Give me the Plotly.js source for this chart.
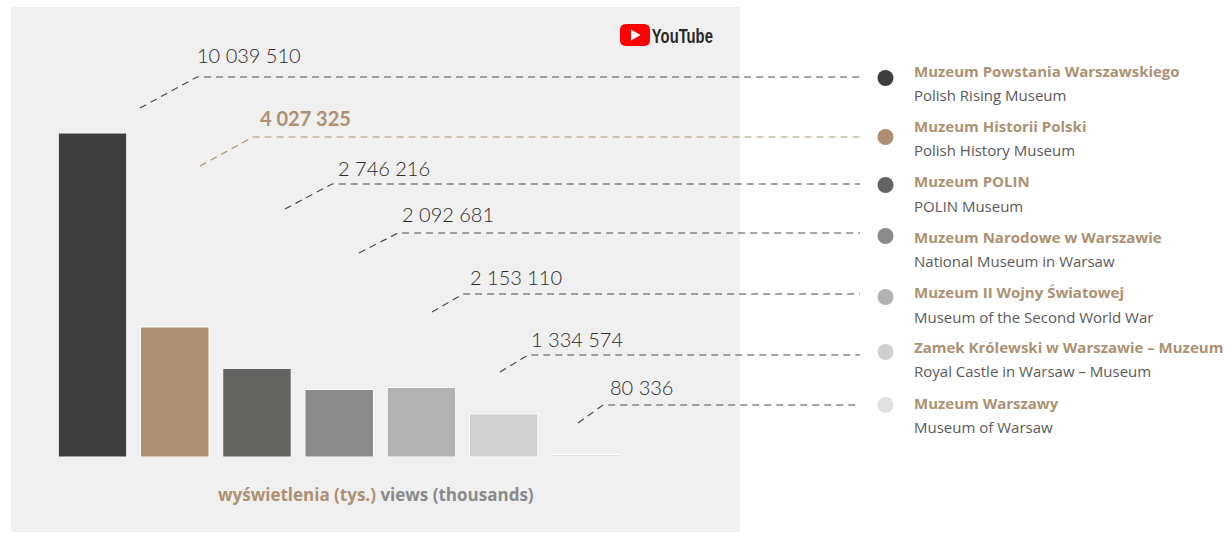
<!DOCTYPE html>
<html>
<head>
<meta charset="utf-8">
<script src="https://cdn.plot.ly/plotly-3.0.1.min.js"></script>
<style>html,body{margin:0;padding:0;background:#fff;}#chart{width:1231px;height:533px;}</style>
</head>
<body>
<div id="chart"></div>
<script>
// ---- data ----
const museumsPL = [
  "Muzeum Powstania Warszawskiego",
  "Muzeum Historii Polski",
  "Muzeum POLIN",
  "Muzeum Narodowe w Warszawie",
  "Muzeum II Wojny Światowej",
  "Zamek Królewski w Warszawie – Muzeum",
  "Muzeum Warszawy"
];
const museumsEN = [
  "Polish Rising Museum",
  "Polish History Museum",
  "POLIN Museum",
  "National Museum in Warsaw",
  "Museum of the Second World War",
  "Royal Castle in Warsaw – Museum",
  "Museum of Warsaw"
];
const views = [10039510, 4027325, 2746216, 2092681, 2153110, 1334574, 80336];
const viewLabels = ["10 039 510", "4 027 325", "2 746 216", "2 092 681", "2 153 110", "1 334 574", "80 336"];
const axisTitlePL = "wyświetlenia (tys.)";
const axisTitleEN = "views (thousands)";

// ---- styling / layout ----
const barColors = ["#3e3e3e", "#ad8e71", "#636361", "#8b8b8b", "#b2b2b2", "#d0d0d0", "#e1e1e1"];
const tan = "#ad9172";
const W = 1231, H = 533;
const px = x => x / W;
const py = y => 1 - y / H;

// leader geometry (pixels)
const diagStart = [[140,108],[200,166],[285,209],[359,253],[432,312],[500,372],[578,423]];
const diagEnd   = [[197,77],[253,137],[332,184],[398,233],[463,294],[528,355],[603,405]];
const lineEndX = 860;
const dotY = [78,137,185,236,297,352,405];
const dotX = 885.5, dotR = 8;
const labelX = [195,258,336,400,468,529,608];
const labelY = [55,118,168,214,277,339,387];
const titleY = [71,126,181,237,292,347,403];
const subY = [95,150,206,261,317,371,427];
const legendX = 912;

const xs = views.map((v, i) => i);
const trace = {
  type: "bar",
  x: xs,
  y: views.map(v => v / 1000),
  marker: { color: barColors, line: { color: "#ffffff", width: 1 } },
  hoverinfo: "skip",
  showlegend: false
};

const shapes = [];
const annotations = [];

// background panel
shapes.push({ type: "rect", xref: "paper", yref: "paper", layer: "below",
  x0: px(11), x1: px(740), y0: py(532), y1: py(7),
  fillcolor: "#f0f0f0", line: { width: 0 } });

function pathFromPx(pts, close) {
  return pts.map((p, i) => (i === 0 ? "M" : "L") + px(p[0]).toFixed(5) + "," + py(p[1]).toFixed(5)).join(" ") + (close ? " Z" : "");
}

views.forEach((v, i) => {
  const col = i === 1 ? "#b09475" : "#4a4a4a";
  shapes.push({ type: "path", xref: "paper", yref: "paper", layer: "above",
    path: pathFromPx([diagStart[i], diagEnd[i], [lineEndX, diagEnd[i][1]]], false),
    line: { color: col, width: 1.2, dash: "7px,5px" } });
  shapes.push({ type: "circle", xref: "paper", yref: "paper",
    x0: px(dotX - dotR), x1: px(dotX + dotR), y0: py(dotY[i] + dotR), y1: py(dotY[i] - dotR),
    fillcolor: barColors[i], line: { width: 0 } });
  annotations.push({ xref: "paper", yref: "paper", x: px(labelX[i]), y: py(labelY[i]),
    xanchor: "left", yanchor: "middle", showarrow: false,
    text: i === 1 ? "<b>" + viewLabels[i] + "</b>" : viewLabels[i],
    font: { family: "Lato, sans-serif", size: 20, weight: i === 1 ? 700 : 300, color: i === 1 ? tan : "#2b2b2b" } });
  annotations.push({ xref: "paper", yref: "paper", x: px(legendX), y: py(titleY[i]),
    xanchor: "left", yanchor: "middle", showarrow: false,
    text: "<b>" + museumsPL[i] + "</b>",
    font: { family: "'Open Sans', sans-serif", size: 15, color: tan } });
  annotations.push({ xref: "paper", yref: "paper", x: px(legendX), y: py(subY[i]),
    xanchor: "left", yanchor: "middle", showarrow: false,
    text: museumsEN[i],
    font: { family: "'Open Sans', sans-serif", size: 15, color: "#5a5a5a" } });
});

// axis title (bilingual)
annotations.push({ xref: "paper", yref: "paper", x: px(376), y: py(494.5),
  xanchor: "center", yanchor: "middle", showarrow: false,
  text: '<b><span style="color:' + tan + '">' + axisTitlePL + '</span> <span style="color:#8a8a8a">' + axisTitleEN + '</span></b>',
  font: { family: "'Open Sans', sans-serif", size: 17, color: "#8a8a8a" } });

// YouTube logo
(function () {
  const x0 = 620, x1 = 650, y0 = 24, y1 = 46, r = 6;
  const P = (x, y) => px(x).toFixed(5) + "," + py(y).toFixed(5);
  const path = "M" + P(x0 + r, y0) + " L" + P(x1 - r, y0) + " Q" + P(x1, y0) + " " + P(x1, y0 + r) +
    " L" + P(x1, y1 - r) + " Q" + P(x1, y1) + " " + P(x1 - r, y1) +
    " L" + P(x0 + r, y1) + " Q" + P(x0, y1) + " " + P(x0, y1 - r) +
    " L" + P(x0, y0 + r) + " Q" + P(x0, y0) + " " + P(x0 + r, y0) + " Z";
  shapes.push({ type: "path", xref: "paper", yref: "paper", path: path, fillcolor: "#ff0000", line: { width: 0 } });
  shapes.push({ type: "path", xref: "paper", yref: "paper",
    path: pathFromPx([[631, 29.5], [631, 40.5], [640.5, 35]], true), fillcolor: "#ffffff", line: { width: 0 } });
  annotations.push({ xref: "paper", yref: "paper", x: px(682.5), y: py(35.5), xanchor: "center", yanchor: "middle",
    showarrow: false, text: "<b>YouTube</b>",
    font: { family: "'Liberation Sans', sans-serif", size: 21, color: "#282828" } });
})();

const layout = {
  width: W, height: H,
  margin: { l: 0, r: 0, t: 0, b: 0 },
  paper_bgcolor: "#ffffff",
  plot_bgcolor: "rgba(0,0,0,0)",
  bargap: 0.167,
  xaxis: { domain: [px(51.4), px(627)], range: [-0.5, 6.5], showgrid: false, zeroline: false,
    showticklabels: false, ticks: "", fixedrange: true },
  yaxis: { domain: [py(457), py(133)], range: [0, Math.max(...views) / 1000], showgrid: false, zeroline: false,
    showticklabels: false, ticks: "", fixedrange: true },
  shapes: shapes,
  annotations: annotations,
  showlegend: false
};

Plotly.newPlot("chart", [trace], layout, { displayModeBar: false, staticPlot: true }).then(function (gd) {
  // condense the YouTube wordmark to its logo width
  gd.querySelectorAll(".annotation-text").forEach(function (t) {
    if (t.textContent === "YouTube") {
      t.setAttribute("textLength", "61");
      t.setAttribute("lengthAdjust", "spacingAndGlyphs");
    }
  });
});
</script>
</body>
</html>
